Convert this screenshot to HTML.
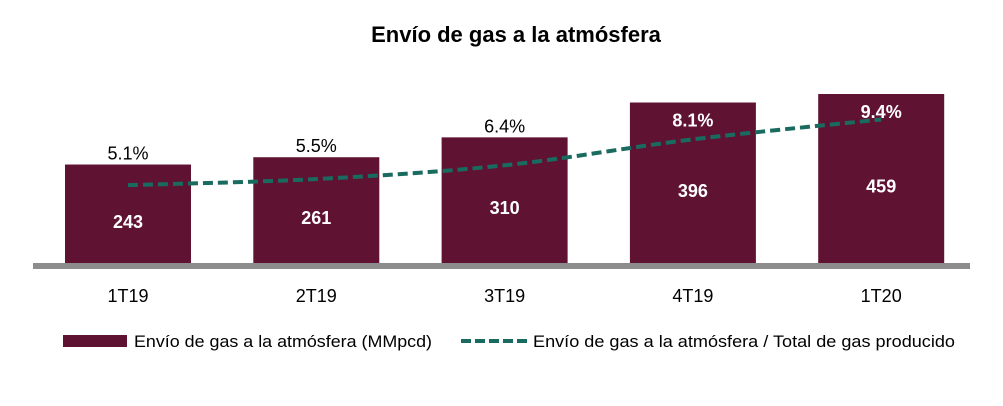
<!DOCTYPE html>
<html><head><meta charset="utf-8"><style>
body{margin:0;background:#fff}
svg text{font-family:"Liberation Sans",sans-serif}
</style></head><body>
<svg width="1003" height="401" viewBox="0 0 1003 401">
<text x="516" y="42" text-anchor="middle" font-size="22" font-weight="bold" fill="#000">Envío de gas a la atmósfera</text>
<g id="bars"></g>
<rect x="33" y="263" width="937" height="6" fill="#8c8c8c"/>
<g id="line"></g>
<g id="labels"></g>
<g>
<rect x="63" y="335" width="64" height="12" fill="#5f1232"/>
<text x="134" y="347" font-size="17" fill="#000" textLength="298" lengthAdjust="spacingAndGlyphs">Envío de gas a la atmósfera (MMpcd)</text>
<line x1="461" y1="341" x2="527" y2="341" stroke="#1a6b5f" stroke-width="4" stroke-dasharray="10,4"/>
<text x="533" y="347" font-size="17" fill="#000" textLength="422" lengthAdjust="spacingAndGlyphs">Envío de gas a la atmósfera / Total de gas producido</text>
</g>
</svg>
<script>
const categories=["1T19","2T19","3T19","4T19","1T20"];
const volumes=[243,261,310,396,459];
const ratios=[5.1,5.5,6.4,8.1,9.4];
const ns="http://www.w3.org/2000/svg";
const base=263, plotTop=94, x0=65, step=188.3, bw=126;
const yMax=417, pMax=11.07;
function yV(v){return Math.max(plotTop, base-(v/yMax)*(base-plotTop));}
function yP(p){return base-(p/pMax)*(base-plotTop);}
function cx(i){return x0+i*step+bw/2;}
function mk(tag,attrs,parent){const e=document.createElementNS(ns,tag);for(const k in attrs)e.setAttribute(k,attrs[k]);parent.appendChild(e);return e;}
const gb=document.getElementById("bars"),gl=document.getElementById("line"),gt=document.getElementById("labels");
categories.forEach((c,i)=>{
  const y=yV(volumes[i]);
  const r=mk("rect",{x:x0+i*step,y:y,width:bw,height:base-y,fill:"#5f1232"},gb);
  
  
  const t=mk("text",{x:cx(i),y:(y+base)/2+14,"text-anchor":"middle","font-size":"18","font-weight":"bold",fill:"#fff"},gt);
  t.textContent=volumes[i];
  
  
  const cl=mk("text",{x:cx(i),y:302,"text-anchor":"middle","font-size":"18",fill:"#000"},gt);
  cl.textContent=c;
  
  
});
const pts=categories.map((c,i)=>[cx(i),yP(ratios[i])]);
let d="M"+pts[0][0]+","+pts[0][1];
for(let i=0;i<pts.length-1;i++){
  const p0=pts[Math.max(0,i-1)],p1=pts[i],p2=pts[i+1],p3=pts[Math.min(pts.length-1,i+2)];
  const c1=[p1[0]+(p2[0]-p0[0])/6,p1[1]+(p2[1]-p0[1])/6];
  const c2=[p2[0]-(p3[0]-p1[0])/6,p2[1]-(p3[1]-p1[1])/6];
  d+=" C"+c1[0]+","+c1[1]+" "+c2[0]+","+c2[1]+" "+p2[0]+","+p2[1];
}
const ln=mk("path",{d:d,fill:"none",stroke:"#1a6b5f","stroke-width":"4","stroke-dasharray":"10,5"},gl);


categories.forEach((c,i)=>{
  const by=yV(volumes[i]);
  const inside=by<120;
  const t=mk("text",{x:cx(i),y:inside?by+24:by-5,"text-anchor":"middle","font-size":"18",fill:inside?"#fff":"#000","font-weight":inside?"bold":"normal"},gt);
  t.textContent=ratios[i].toFixed(1)+"%";
  
  
});
</script>
</body></html>
